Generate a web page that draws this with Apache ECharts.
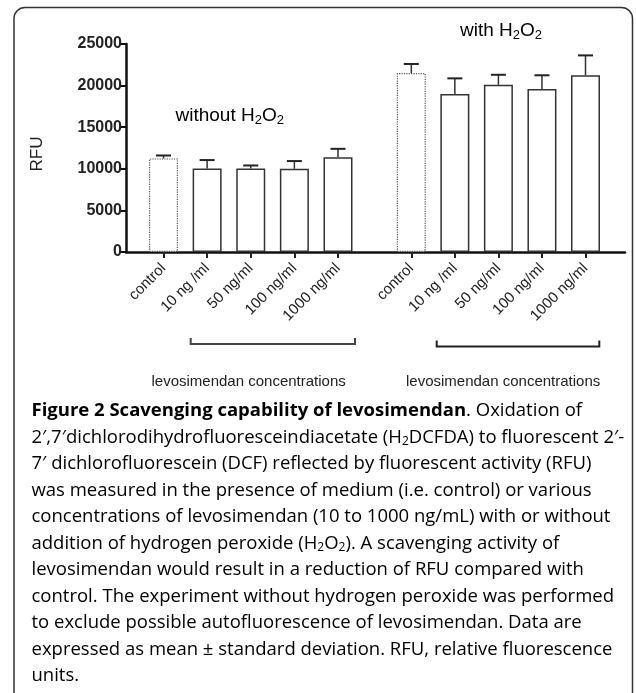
<!DOCTYPE html>
<html>
<head>
<meta charset="utf-8">
<script src="https://cdn.jsdelivr.net/npm/echarts@6/dist/echarts.min.js"></script>
<style>
    html, body {margin: 0; padding: 0; background: #fff;}
    #main {width: 636px; height: 693px;}
</style>
</head>
<body>
<div id="main"></div>
<script>
// 数据
var categories = ['control', '10 ng /ml', '50 ng/ml', '100 ng/ml', '1000 ng/ml'];
var withoutH2O2 = [11250, 10050, 10050, 10000, 11400];
var withoutH2O2Sd = [350, 1000, 350, 930, 1000];
var withH2O2 = [21500, 19000, 20100, 19600, 21250];
var withH2O2Sd = [1100, 1870, 1200, 1640, 2380];
var yTicks = [0, 5000, 10000, 15000, 20000, 25000];

var captionLines = [
    '{b|Figure 2 Scavenging capability of levosimendan}{n|. Oxidation of}',
    '{n|2\u2032,7\u2032dichlorodihydrofluoresceindiacetate (H}{s|2}{n|DCFDA) to fluorescent 2\u2032-}',
    '{n|7\u2032 dichlorofluorescein (DCF) reflected by fluorescent activity (RFU)}',
    '{n|was measured in the presence of medium (i.e. control) or various}',
    '{n|concentrations of levosimendan (10 to 1000 ng/mL) with or without}',
    '{n|addition of hydrogen peroxide (H}{s|2}{n|O}{s|2}{n|). A scavenging activity of}',
    '{n|levosimendan would result in a reduction of RFU compared with}',
    '{n|control. The experiment without hydrogen peroxide was performed}',
    '{n|to exclude possible autofluorescence of levosimendan. Data are}',
    '{n|expressed as mean \u00b1 standard deviation. RFU, relative fluorescence}',
    '{n|units.}'
];

var chart = echarts.init(document.getElementById('main'));

//误差线
function renderErr(params, api) {
    var x = api.value(0);
    var top = api.value(1);
    var sd = api.value(2);
    var p0 = api.coord([x, top]);
    var p1 = api.coord([x, top + sd]);
    return {
        type: 'group',
        children: [{
            type: 'line',
            shape: {x1: p0[0], y1: p0[1], x2: p1[0], y2: p1[1]},
            style: {stroke: '#333', lineWidth: 1.5}
        }, {
            type: 'line',
            shape: {x1: p1[0] - 7.5, y1: p1[1], x2: p1[0] + 7.5, y2: p1[1]},
            style: {stroke: '#222', lineWidth: 2}
        }]
    };
}

function barData(vals) {
    return vals.map(function (v, i) {
        if (i === 0) {
            return {value: v, itemStyle: {borderType: 'dotted', borderColor: '#555', borderWidth: 1.2}};
        }
        return v;
    });
}

function errData(vals, sds) {
    return vals.map(function (v, i) {
        return [i, v, sds[i]];
    });
}

var gridTop = 44;
var gridHeight = 208;
var font = 'Liberation Sans, Arial, sans-serif';

var catAxis = function (idx) {
    return {
        type: 'category',
        gridIndex: idx,
        data: categories,
        boundaryGap: false,
        axisLine: {show: false},
        axisTick: {show: true, length: 6, lineStyle: {color: '#222', width: 2}},
        axisLabel: {rotate: 45, fontSize: 15, color: '#222', fontFamily: font, margin: 14}
    };
};
var hiddenY = function (idx) {
    return {type: 'value', gridIndex: idx, min: 0, max: 25000, show: false, splitLine: {show: false}};
};

var graphics = [
    {
        type: 'rect', shape: {x: 14, y: 7.5, width: 618.5, height: 730, r: 11},
        style: {fill: 'none', stroke: '#333', lineWidth: 1.5}
    },
    {
        type: 'text', x: 175.5, y: 116,
        style: {
            text: '{a|without H}{s|2}{a|O}{s|2}', fontFamily: font, verticalAlign: 'middle',
            rich: {a: {fontSize: 19, color: '#222', fontFamily: font}, s: {fontSize: 13, color: '#222', fontFamily: font, padding: [9, 0, 0, 0]}}
        }
    },
    {
        type: 'text', x: 460, y: 31,
        style: {
            text: '{a|with H}{s|2}{a|O}{s|2}', fontFamily: font, verticalAlign: 'middle',
            rich: {a: {fontSize: 19, color: '#222', fontFamily: font}, s: {fontSize: 13, color: '#222', fontFamily: font, padding: [9, 0, 0, 0]}}
        }
    },
    {
        type: 'text', x: 37, y: 154, rotation: Math.PI / 2,
        style: {text: 'RFU', fontSize: 17, fill: '#222', fontFamily: font, align: 'center', verticalAlign: 'middle'}
    },
    {
        type: 'polyline', shape: {points: [[190.7, 338], [190.7, 344], [355, 344], [355, 338]]},
        style: {stroke: '#444', lineWidth: 2, fill: 'none'}
    },
    {
        type: 'polyline', shape: {points: [[436.7, 340.5], [436.7, 346.5], [599.3, 346.5], [599.3, 340.5]]},
        style: {stroke: '#222', lineWidth: 2, fill: 'none'}
    },
    {
        type: 'text', x: 151.5, y: 382,
        style: {text: 'levosimendan concentrations', fontSize: 15, fill: '#222', fontFamily: font, verticalAlign: 'middle'}
    },
    {
        type: 'text', x: 406, y: 382,
        style: {text: 'levosimendan concentrations', fontSize: 15, fill: '#222', fontFamily: font, verticalAlign: 'middle'}
    }
];

//图注
var capFont = 'Open Sans, sans-serif';
captionLines.forEach(function (line, i) {
    graphics.push({
        type: 'text', x: 31.5, y: 411 + 26.5 * i,
        style: {
            text: line, verticalAlign: 'middle',
            rich: {
                n: {fontSize: 18.5, fontFamily: capFont, color: '#231f20'},
                b: {fontSize: 18.5, fontFamily: capFont, fontWeight: 'bold', color: '#231f20'},
                s: {fontSize: 12, fontFamily: capFont, color: '#231f20', padding: [9, 0, 0, 0]}
            }
        }
    });
});

var option = {
    animation: false,
    backgroundColor: '#fff',
    grid: [
        {left: 126, width: 499, top: gridTop, height: gridHeight},
        {left: 163.5, width: 174.5, top: gridTop, height: gridHeight},
        {left: 411.3, width: 174.2, top: gridTop, height: gridHeight}
    ],
    xAxis: [
        {
            type: 'value', gridIndex: 0, min: 0, max: 1,
            axisLine: {show: true, lineStyle: {color: '#111', width: 2.5}},
            axisTick: {show: false}, axisLabel: {show: false}, splitLine: {show: false}
        },
        catAxis(1),
        catAxis(2)
    ],
    yAxis: [
        {
            type: 'value', gridIndex: 0, min: yTicks[0], max: yTicks[yTicks.length - 1], interval: 5000,
            axisLine: {show: true, lineStyle: {color: '#111', width: 2.5}},
            axisTick: {show: true, length: 5, lineStyle: {color: '#111', width: 2}},
            axisLabel: {
                fontSize: 16, fontWeight: 'bold', color: '#222', fontFamily: font, margin: 4,
                formatter: function (v) {
                    return String(v);
                }
            },
            splitLine: {show: false}
        },
        hiddenY(1),
        hiddenY(2)
    ],
    series: [
        {
            name: 'without H2O2', type: 'bar', xAxisIndex: 1, yAxisIndex: 1,
            barWidth: 29, clip: false, z: 2,
            itemStyle: {color: '#fff', borderColor: '#333', borderWidth: 1.5},
            data: barData(withoutH2O2)
        },
        {
            name: 'with H2O2', type: 'bar', xAxisIndex: 2, yAxisIndex: 2,
            barWidth: 29, clip: false, z: 2,
            itemStyle: {color: '#fff', borderColor: '#333', borderWidth: 1.5},
            data: barData(withH2O2)
        },
        {
            type: 'custom', xAxisIndex: 1, yAxisIndex: 1, z: 3, clip: false,
            renderItem: renderErr, data: errData(withoutH2O2, withoutH2O2Sd)
        },
        {
            type: 'custom', xAxisIndex: 2, yAxisIndex: 2, z: 3, clip: false,
            renderItem: renderErr, data: errData(withH2O2, withH2O2Sd)
        }
    ],
    graphic: graphics
};
chart.setOption(option);
</script>
</body>
</html>
